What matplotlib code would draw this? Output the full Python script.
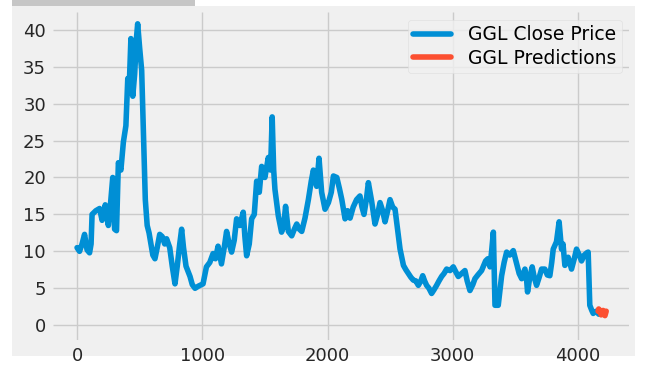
import matplotlib
matplotlib.use("Agg")
import matplotlib.pyplot as plt
from matplotlib.patches import Rectangle

plt.style.use("fivethirtyeight")

# close price (index, price)
days = [0, 20, 40, 60, 80, 100, 112, 120, 150, 180, 200, 225, 250, 265, 285, 300, 315,
        330, 350, 370, 390, 405, 415, 430, 445, 460, 475, 484, 500, 516, 530, 545, 560,
        575, 590, 605, 622, 640, 660, 680, 700, 715, 740, 760, 782, 800, 820, 835, 850,
        870, 902, 920, 942, 970, 1006, 1033, 1060, 1086, 1105, 1126, 1153, 1175, 1194,
        1215, 1234, 1255, 1274, 1300, 1327, 1340, 1354, 1375, 1394, 1415, 1434, 1455,
        1474, 1500, 1527, 1545, 1558, 1570, 1580, 1607, 1633, 1650, 1665, 1687, 1714,
        1735, 1754, 1775, 1794, 1820, 1847, 1870, 1887, 1913, 1932, 1953, 1980, 2007,
        2030, 2047, 2074, 2095, 2114, 2140, 2160, 2180, 2205, 2232, 2259, 2275, 2291,
        2310, 2326, 2352, 2379, 2400, 2419, 2440, 2459, 2480, 2499, 2520, 2539, 2566,
        2579, 2606, 2626, 2646, 2665, 2685, 2705, 2725, 2745, 2760, 2775, 2791, 2810,
        2831, 2850, 2871, 2890, 2911, 2930, 2951, 2978, 3004, 3025, 3044, 3070, 3097,
        3115, 3137, 3160, 3177, 3200, 3230, 3262, 3280, 3297, 3310, 3324, 3330, 3337,
        3363, 3390, 3410, 3430, 3455, 3483, 3510, 3530, 3550, 3576, 3590, 3597, 3615,
        3634, 3650, 3669, 3690, 3709, 3735, 3755, 3775, 3790, 3802, 3828, 3849, 3868,
        3880, 3895, 3921, 3948, 3970, 3988, 4010, 4028, 4050, 4070, 4081, 4094, 4110,
        4121, 4135, 4147, 4165, 4180, 4200]
close = [10.5, 10.0, 11.0, 12.3, 10.2, 9.8, 11.0, 15.0, 15.5, 15.8, 14.2, 16.3, 13.5,
         16.0, 20.0, 13.0, 12.8, 22.0, 21.0, 24.8, 27.0, 33.4, 31.5, 38.8, 31.0, 34.0,
         39.0, 40.8, 37.5, 34.5, 26.0, 17.0, 13.5, 12.5, 11.0, 9.5, 9.0, 10.5, 12.3,
         12.0, 11.0, 11.7, 10.5, 8.0, 5.6, 8.0, 11.0, 13.0, 10.5, 8.0, 6.6, 5.5, 5.0,
         5.3, 5.6, 7.9, 8.5, 9.7, 9.0, 10.7, 8.3, 10.5, 12.7, 11.0, 9.9, 11.5, 14.4,
         13.5, 15.3, 12.0, 9.4, 11.0, 14.4, 15.0, 19.5, 18.0, 21.5, 20.0, 22.7, 21.0,
         28.2, 21.0, 18.4, 14.8, 12.6, 13.5, 16.1, 12.7, 12.1, 13.0, 13.7, 13.0, 12.7,
         14.5, 17.0, 19.5, 21.0, 18.8, 22.6, 18.0, 15.7, 16.6, 18.0, 20.2, 20.0, 18.5,
         17.0, 14.4, 15.5, 14.5, 16.0, 17.0, 17.5, 16.0, 15.0, 17.0, 19.3, 16.8, 13.7,
         15.0, 16.6, 15.5, 14.0, 15.5, 17.0, 16.0, 15.7, 12.1, 10.3, 8.1, 7.5, 7.0, 6.5,
         6.1, 6.0, 5.4, 6.0, 6.7, 6.0, 5.4, 5.0, 4.3, 4.8, 5.4, 6.0, 6.6, 7.0, 7.6, 7.4,
         7.9, 7.2, 6.6, 7.0, 7.4, 6.0, 4.7, 5.5, 6.3, 6.8, 7.4, 8.7, 9.0, 7.9, 10.0,
         12.6, 8.0, 2.7, 2.7, 6.7, 8.5, 9.9, 9.5, 10.1, 8.3, 7.0, 6.3, 7.6, 6.0, 4.5,
         6.5, 7.9, 6.5, 5.4, 6.5, 7.6, 7.6, 6.8, 6.7, 8.5, 10.3, 11.3, 14.0, 10.3, 11.0,
         8.1, 9.2, 7.6, 9.0, 10.3, 9.5, 8.7, 9.5, 9.8, 9.9, 2.7, 2.0, 1.6, 1.8, 1.9, 1.5,
         1.8, 1.6]

# predictions over the last stretch
pred_days = [4160, 4165, 4170, 4175, 4180, 4185, 4190, 4195, 4200, 4205, 4210, 4215,
             4220, 4225]
pred = [1.9, 2.2, 2.1, 1.8, 1.6, 1.4, 1.5, 1.8, 2.0, 1.7, 1.5, 1.3, 1.6, 1.9]

W, H = 664, 377
fig = plt.figure(figsize=(W / 100, H / 100), dpi=100, facecolor="white")

# grey panel of the screenshot and the cut-off bar above it
fig.patches.append(Rectangle((12 / W, 1 - 356 / H), 623 / W, 350 / H,
                             transform=fig.transFigure, facecolor="#f0f0f0",
                             edgecolor="none", zorder=-10))
fig.patches.append(Rectangle((12 / W, 1 - 6 / H), 183 / W, 6 / H,
                             transform=fig.transFigure, facecolor="#c6c6c6",
                             edgecolor="none", zorder=-10))

ax = fig.add_axes([53 / W, 1 - 340 / H, 576 / W, 328 / H])
ax.set_facecolor("#f0f0f0")

ax.plot(days, close, color="#008fd5", lw=4, solid_joinstyle="round",
        solid_capstyle="round", label="GGL Close Price")
ax.plot(pred_days, pred, color="#fc4f30", lw=4, solid_joinstyle="round",
        solid_capstyle="round", label="GGL Predictions")

ax.set_xlim(-192, 4407)
ax.set_ylim(-2.0, 42.4)
ax.set_xticks([0, 1000, 2000, 3000, 4000])
ax.set_yticks([0, 5, 10, 15, 20, 25, 30, 35, 40])
ax.tick_params(labelsize=13, colors="#262626", pad=5)
ax.grid(color="#cbcbcb", lw=1)
for s in ax.spines.values():
    s.set_visible(False)

leg = ax.legend(loc="upper right", fontsize=13.5, framealpha=0.8,
                borderaxespad=0.4, borderpad=0.3, labelspacing=0.25,
                handlelength=2.0, handletextpad=0.9)
leg.get_frame().set_edgecolor("#dddddd")
leg.get_frame().set_facecolor("#f0f0f0")

fig.savefig("out.png", dpi=100, facecolor="white")
